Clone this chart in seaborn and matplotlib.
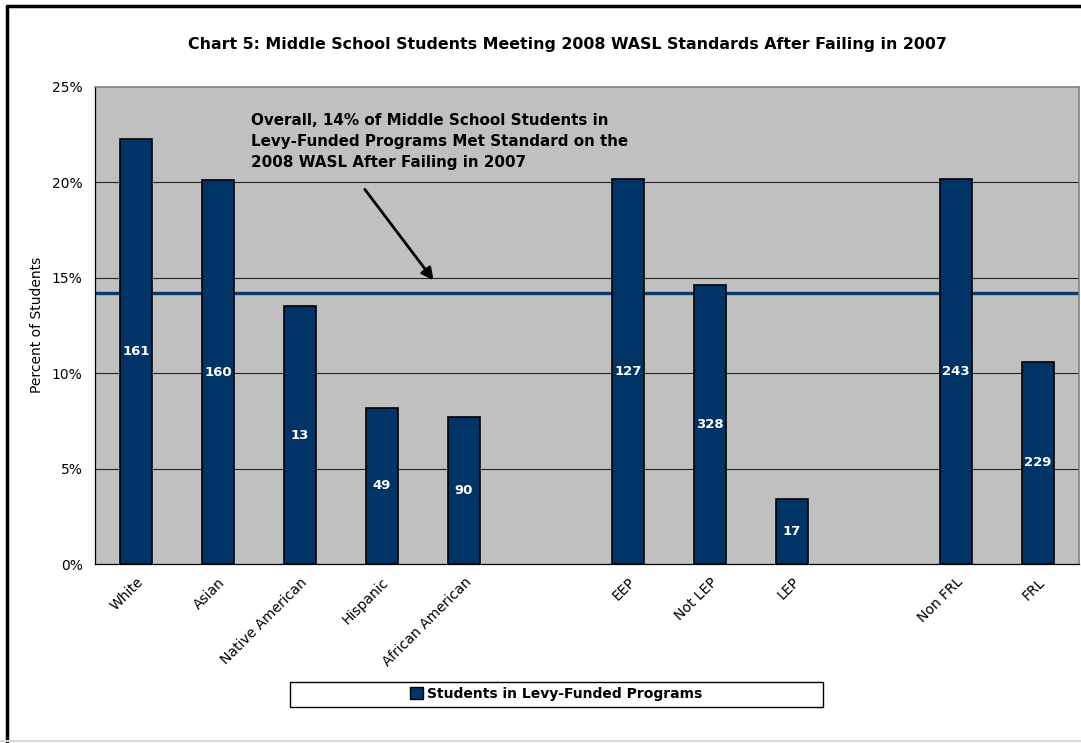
import pandas as pd
import numpy as np
import seaborn as sns
import matplotlib.pyplot as plt
from matplotlib.patches import Patch, Rectangle
from matplotlib.lines import Line2D

# chart data
groups = ["White", "Asian", "Native American", "Hispanic", "African American",
          "EEP", "Not LEP", "LEP", "Non FRL", "FRL"]
pct_met = [22.3, 20.1, 13.5, 8.2, 7.7, 20.2, 14.6, 3.4, 20.2, 10.6]
n_students = [161, 160, 13, 49, 90, 127, 328, 17, 243, 229]
overall_pct = 14.2
# slot order on the axis, blanks are empty gaps
slot_order = ["White", "Asian", "Native American", "Hispanic", "African American", " ",
              "EEP", "Not LEP", "LEP", "  ", "Non FRL", "FRL"]

df = pd.DataFrame({"group": groups, "pct": pct_met, "n": n_students})

sns.set_style("white")
plt.rcParams['font.family'] = ['DejaVu Sans']
plt.rcParams['text.color'] = 'black'
plt.rcParams['xtick.color'] = 'black'
plt.rcParams['ytick.color'] = 'black'
plt.rcParams['axes.labelcolor'] = 'black'

navy = "#003366"
fig = plt.figure(figsize=(10.81, 7.43), dpi=100)
ax = fig.add_axes([95 / 1081, 1 - 564 / 743, (1079 - 95) / 1081, (564 - 87) / 743])
ax.set_facecolor("#C0C0C0")

# overall line goes behind the bars
ax.axhline(overall_pct, color="#0B3A6B", lw=2.4, zorder=1.5)
for g in [5, 10, 15, 20]:
    ax.axhline(g, color="#222222", lw=0.8, zorder=1)

sns.barplot(data=df, x="group", y="pct", order=slot_order, color=navy,
            saturation=1, width=0.4, edgecolor="black", linewidth=1.2,
            errorbar=None, ax=ax, zorder=2)

for _, row in df.iterrows():
    xpos = slot_order.index(row["group"])
    ax.text(xpos, row["pct"] / 2, str(row["n"]), color="white", fontsize=9.5,
            fontweight="bold", ha="center", va="center", zorder=3)

ax.set_xlim(-0.5, len(slot_order) - 0.5)
ax.set_ylim(0, 25)
ax.set_yticks([0, 5, 10, 15, 20, 25])
ax.set_yticklabels([f"{v}%" for v in [0, 5, 10, 15, 20, 25]], fontsize=10)
ax.set_xticks(range(len(slot_order)))
ax.set_xticklabels(slot_order, rotation=45, ha="right", rotation_mode="anchor", fontsize=10)
ax.set_xticks(np.arange(-0.5, len(slot_order), 1), minor=True)
ax.tick_params(axis="x", which="major", length=0, pad=8)
ax.tick_params(axis="x", which="minor", length=5, width=0.8, color="black", direction="out")
ax.tick_params(axis="y", length=5, width=0.8, color="black", direction="out", pad=4)
ax.set_xlabel("")
ax.set_ylabel("")

for side in ["left", "bottom"]:
    ax.spines[side].set_color("black")
    ax.spines[side].set_linewidth(0.9)
for side in ["top", "right"]:
    ax.spines[side].set_color("#808080")
    ax.spines[side].set_linewidth(1.2)

ax.annotate("", xy=(3.65, 14.75), xytext=(2.77, 19.75),
            arrowprops=dict(arrowstyle="-|>", color="black", lw=2, mutation_scale=18), zorder=4)
ax.text(1.40, 23.65, "Overall, 14% of Middle School Students in\n"
        "Levy-Funded Programs Met Standard on the\n2008 WASL After Failing in 2007",
        fontsize=10.9, fontweight="bold", ha="left", va="top", linespacing=1.5, zorder=4)

fig.text(567 / 1081, 1 - 45 / 743,
         "Chart 5: Middle School Students Meeting 2008 WASL Standards After Failing in 2007",
         fontsize=11.4, fontweight="bold", ha="center", va="center")
fig.text(37 / 1081, 1 - 325 / 743, "Percent of Students", rotation=90,
         fontsize=10, ha="center", va="center")

# legend box
fig.add_artist(Rectangle((290 / 1081, 1 - 707 / 743), 533 / 1081, 25 / 743,
                         transform=fig.transFigure, facecolor="white",
                         edgecolor="black", lw=1))
fig.legend(handles=[Patch(facecolor=navy, edgecolor="black", label="Students in Levy-Funded Programs")],
           loc="center", bbox_to_anchor=(556 / 1081, 1 - 694 / 743), frameon=False,
           prop={"weight": "bold", "size": 10}, handlelength=0.9, handleheight=0.9,
           handletextpad=0.3)

# outer frame
fig.add_artist(Line2D([7 / 1081, 7 / 1081], [0, 1 - 6 / 743], transform=fig.transFigure,
                      color="black", lw=2.5))
fig.add_artist(Line2D([7 / 1081, 1], [1 - 6 / 743, 1 - 6 / 743], transform=fig.transFigure,
                      color="black", lw=2.5))
fig.add_artist(Line2D([0, 1], [2 / 743, 2 / 743], transform=fig.transFigure,
                      color="#D8D8D8", lw=1.5))

fig.savefig("out.png", dpi=100)
